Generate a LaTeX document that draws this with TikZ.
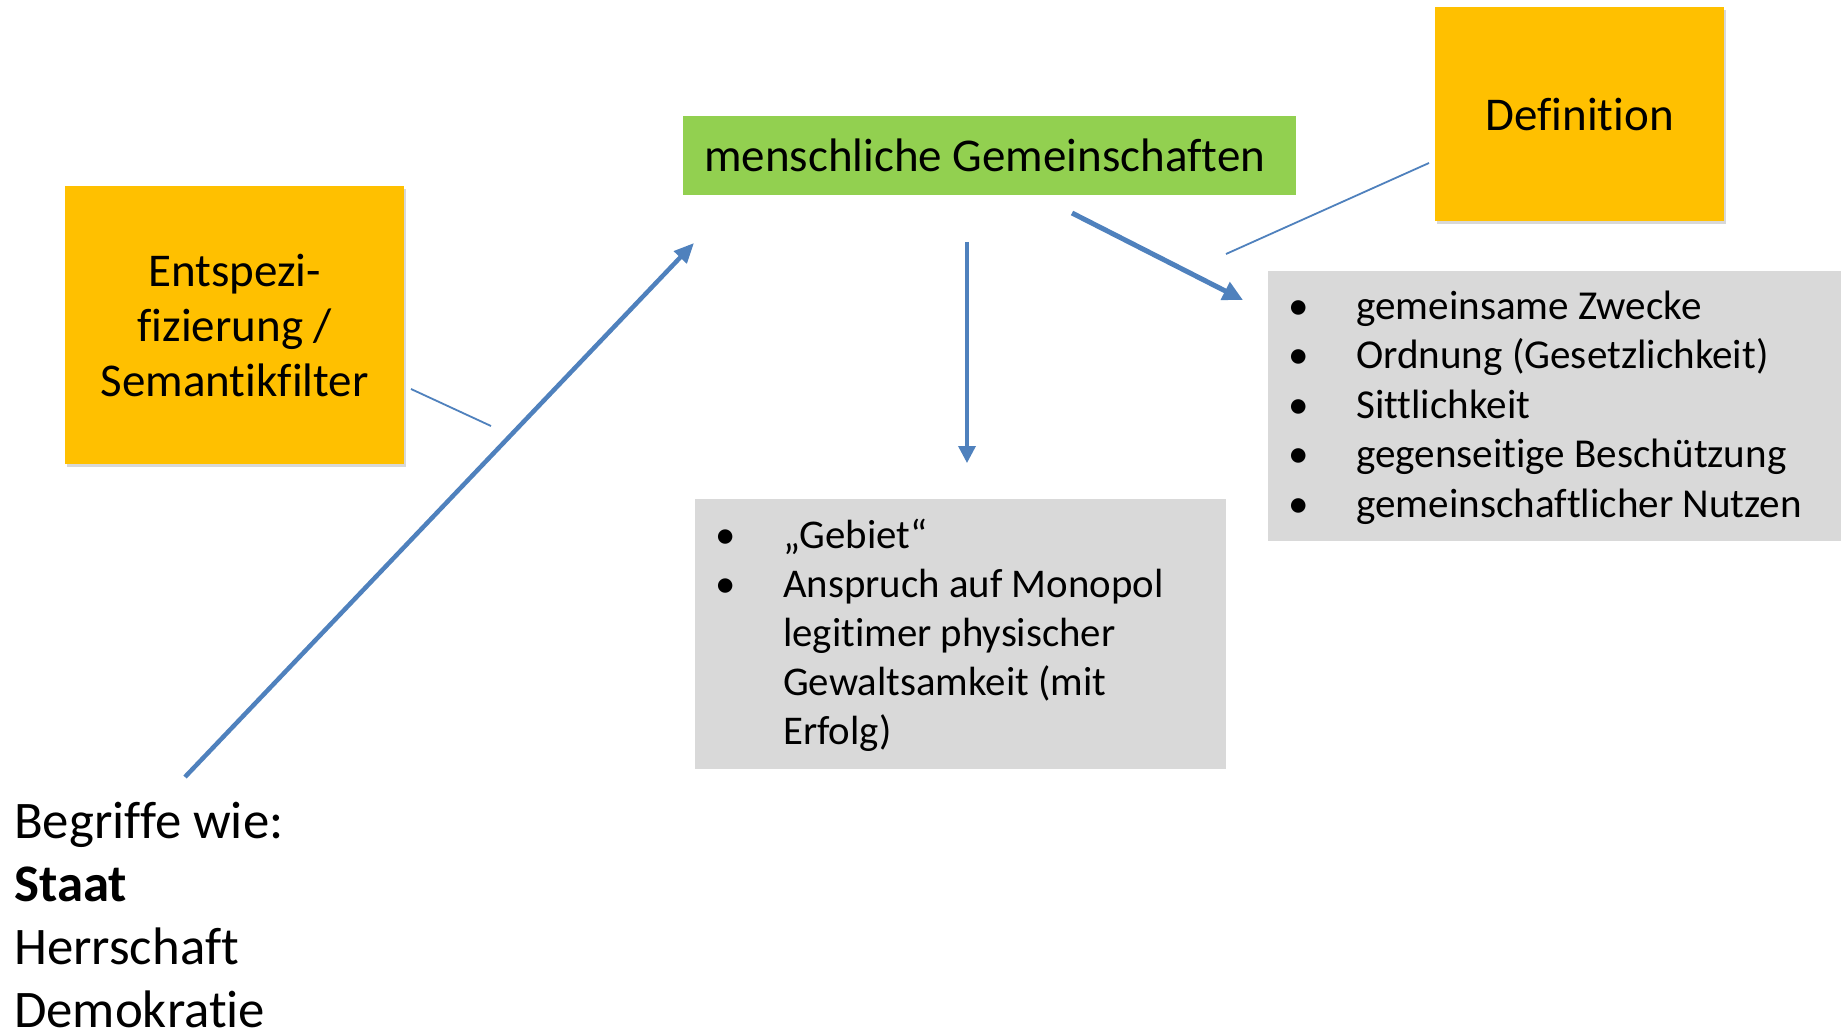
\documentclass[tikz,border=0pt]{standalone}
\usepackage{fontspec}
\setmainfont{Carlito}[Ligatures={TeX,CommonOff}]
\usetikzlibrary{arrows.meta,shadows}
\definecolor{orangebox}{HTML}{FFC000}
\definecolor{greenbox}{HTML}{92D050}
\definecolor{greybox}{HTML}{D9D9D9}
\definecolor{arrowblue}{HTML}{4F81BD}
\newcommand{\bul}{\makebox[68pt][l]{•}}
\newcommand{\ind}{\makebox[68pt][l]{}}
\begin{document}
\begin{tikzpicture}[x=1pt,y=-1pt,
  obox/.style={fill=orangebox, inner sep=0pt, align=flush center, anchor=north west,
    font=\fontsize{47}{55}\selectfont,
    drop shadow={shadow xshift=2pt, shadow yshift=-3pt, opacity=0.3}},
  gnbox/.style={fill=greenbox, inner sep=0pt, align=flush center, anchor=north west,
    font=\fontsize{47}{55}\selectfont},
  gybox/.style={fill=greybox, inner sep=0pt, align=flush left, anchor=north west,
    font=\fontsize{41.1}{49.5}\selectfont},
  conn/.style={draw=arrowblue, line cap=butt},
  thinconn/.style={draw=arrowblue, line width=1.8pt}
]
\useasboundingbox[fill=white] (0,0) rectangle (1845,1032);

% boxes
\node[obox, minimum width=339pt, minimum height=278pt] (entsp) at (65,186)
  {Entspezi-\\fizierung /\\Semantikfilter};
\node[obox, minimum width=289pt, minimum height=214pt] (defn) at (1435,7)
  {Definition};
\node[gnbox, minimum width=613pt, minimum height=79pt] (mg) at (683,116)
  {menschliche Gemeinschaften\hspace*{10pt}};
\node[gybox, minimum width=573pt, minimum height=270pt, text width=533pt] (rlist) at (1268,271)
  {\rule{0pt}{38.6pt}\bul gemeinsame Zwecke\\
   \strut\bul Ordnung (Gesetzlichkeit)\\
   \strut\bul Sittlichkeit\\
   \strut\bul gegenseitige Beschützung\\
   \strut\bul gemeinschaftlicher Nutzen};
\node[gybox, minimum width=531pt, minimum height=270pt, text width=491pt, font=\fontsize{40.8}{49}\selectfont] (mlist) at (695,499)
  {\rule{0pt}{39.3pt}\bul „Gebiet“\\
   \strut\bul Anspruch auf Monopol\\
   \strut\ind legitimer physischer\\
   \strut\ind Gewaltsamkeit (mit\\
   \strut\ind Erfolg)};
\node[inner sep=0pt, align=flush left, anchor=north west, font=\fontsize{52.8}{63}\selectfont] (begr) at (14,794)
  {\strut Begriffe wie:\\ \strut\textbf{Staat}\\ \strut Herrschaft\\ Demokratie};

% connector end points
\coordinate (bigstart) at (185,777);
\coordinate (bigend) at (694,243);
\coordinate (vstart) at (967,242);
\coordinate (vend) at (967,463);
\coordinate (dstart) at (1072,213);
\coordinate (dend) at (1243,300);
\coordinate (defa) at (1429,163);
\coordinate (defb) at (1226,254);
\coordinate (enta) at (411,389);
\coordinate (entb) at (491,426);

% arrows
\draw[conn, line width=4.5pt, -{Triangle[length=20pt,width=17pt]}] (bigstart) -- (bigend);
\draw[conn, line width=3.5pt, -{Triangle[length=17pt,width=17pt]}] (vstart) -- (vend);
\draw[conn, line width=5pt, -{Triangle[length=20pt,width=19pt]}] (dstart) -- (dend);
\draw[thinconn] (defa) -- (defb);
\draw[thinconn] (enta) -- (entb);
\end{tikzpicture}
\end{document}
